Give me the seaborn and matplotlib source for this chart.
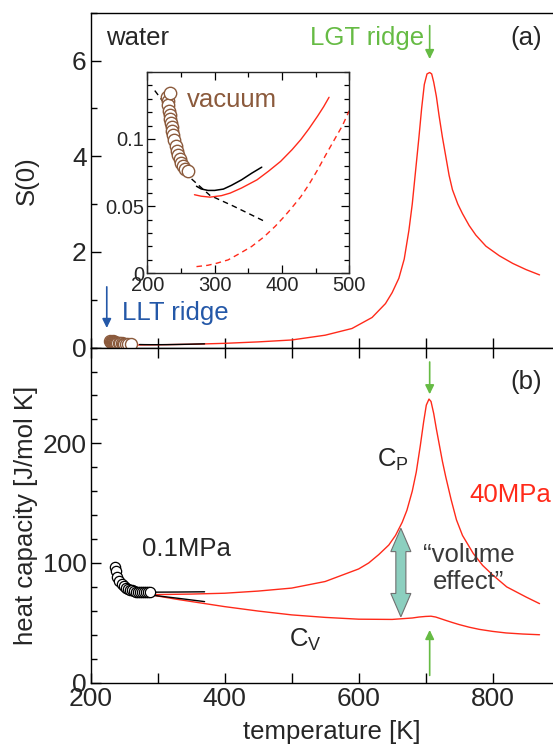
import matplotlib
matplotlib.use("Agg")
import matplotlib.pyplot as plt
import matplotlib.patches as mpatches
from matplotlib.ticker import MultipleLocator
import numpy as np
import pandas as pd
import seaborn as sns

# ---- data ----
# S(0) at 40 MPa (red, main panel a)
s0_T = [265, 300, 350, 400, 450, 500, 550, 590, 620, 640, 650, 660, 668, 675, 680,
        685, 690, 694, 698, 702, 706, 709, 712, 716, 720, 725, 730, 735, 740, 748,
        755, 765, 775, 790, 810, 830, 850, 870]
s0_val = [0.055, 0.06, 0.07, 0.09, 0.12, 0.16, 0.26, 0.4, 0.63, 0.92, 1.15, 1.45,
          1.85, 2.45, 3.0, 3.7, 4.4, 5.0, 5.5, 5.72, 5.75, 5.72, 5.55, 5.25, 4.85,
          4.4, 4.0, 3.6, 3.3, 3.0, 2.8, 2.55, 2.35, 2.12, 1.92, 1.76, 1.63, 1.52]

# experimental S(0) (vacuum, brown circles)
vac_T = [229, 230, 231, 232, 233, 233, 234, 235, 236, 237, 238, 240, 242, 244, 246,
         248, 250, 253, 256, 260]
vac_val = [0.131, 0.128, 0.125, 0.121, 0.134, 0.118, 0.115, 0.112, 0.109, 0.106,
           0.103, 0.099, 0.095, 0.091, 0.088, 0.085, 0.082, 0.080, 0.078, 0.076]

# inset curves
blk_T = [273, 280, 290, 300, 313, 325, 340, 355, 370]
blk_val = [0.0648, 0.0628, 0.0617, 0.0617, 0.0627, 0.0655, 0.0696, 0.0745, 0.0790]
blkd_T = [211, 229, 245, 256, 264, 293, 328, 373]
blkd_val = [0.136, 0.124, 0.092, 0.077, 0.071, 0.058, 0.050, 0.039]
red_T = [270, 280, 293, 310, 323, 340, 363, 380, 398, 415, 428, 440, 453, 462, 470]
red_val = [0.0585, 0.0574, 0.0567, 0.0578, 0.0597, 0.0635, 0.0696, 0.0760, 0.0833,
           0.0920, 0.0995, 0.1075, 0.117, 0.124, 0.131]
redd_T = [273, 290, 303, 320, 338, 355, 373, 390, 403, 415, 428, 440, 453, 465, 478,
          490, 500]
redd_val = [0.005, 0.006, 0.0075, 0.010, 0.015, 0.020, 0.027, 0.035, 0.042, 0.049,
            0.057, 0.066, 0.077, 0.088, 0.0995, 0.110, 0.121]

# heat capacity at 40 MPa (panel b)
cp_T = [290, 350, 400, 450, 500, 550, 600, 615, 630, 645, 655, 665, 672, 680, 686,
        692, 697, 701, 705, 708, 712, 716, 720, 725, 730, 738, 746, 755, 771, 785,
        800, 821, 850, 870]
cp_val = [73.5, 74, 74.7, 76.5, 79, 84.5, 95, 100, 107, 115, 123, 134, 144, 160, 176,
          198, 218, 232, 237, 235, 225, 212, 200, 185, 172, 153, 136, 123, 108, 98,
          90, 80, 71.5, 66]
cv_T = [290, 330, 400, 450, 500, 550, 600, 650, 680, 690, 700, 708, 715, 722, 730,
        740, 750, 765, 780, 800, 820, 845, 870]
cv_val = [73.3, 69.5, 63.5, 59.8, 56.6, 54.5, 53, 52.8, 54, 54.8, 55.3, 55.5, 54.8,
          53.5, 52, 50.2, 48.5, 46.3, 44.5, 42.8, 41.5, 40.6, 40]

# 0.1 MPa (black)
cp01_T = [283, 300, 330, 370]
cp01_val = [75.5, 75.6, 75.7, 75.9]
cv01_T = [283, 300, 330, 370]
cv01_val = [73.8, 72.5, 70.5, 67.7]
exp_T = [236, 238, 240, 243, 246, 249, 252, 255, 258, 261, 264, 267, 270, 273, 276,
         279, 282, 285, 288]
exp_cp = [97, 93, 88, 85, 82.5, 80.5, 79, 78, 77.5, 77, 76.5, 76, 75.8, 75.5, 75.5,
          75.5, 75.7, 75.8, 76]

RED = "#ff2a1a"
GREEN = "#66bb44"
BLUE = "#2458a8"
BROWN = "#8b5a3c"

sns.set_theme(style="ticks")
plt.rcParams["font.family"] = ["Liberation Sans", "DejaVu Sans"]
plt.rcParams["axes.linewidth"] = 1.0
plt.rcParams["mathtext.fontset"] = "custom"
plt.rcParams["mathtext.rm"] = "Liberation Sans"

fig = plt.figure(figsize=(5.53, 7.46), dpi=100)
ax1 = fig.add_axes([0.164, 0.534, 0.848, 0.449])
ax2 = fig.add_axes([0.164, 0.085, 0.848, 0.449])
axi = fig.add_axes([0.2665, 0.6336, 0.365, 0.2702])

FS = 18.5
TFS = 19


def style_axis(ax, top, bottom, labelbottom):
    ax.tick_params(which="both", direction="in", top=top, bottom=bottom, right=False,
                   labelbottom=labelbottom, labelsize=TFS, pad=3, color="black",
                   width=1.0)
    ax.tick_params(axis="y", which="major", length=7)
    ax.tick_params(axis="y", which="minor", length=4)
    ax.tick_params(axis="x", which="both", length=7)
    ax.xaxis.set_major_locator(MultipleLocator(200))
    ax.xaxis.set_minor_locator(MultipleLocator(100))
    for sp in ax.spines.values():
        sp.set_color("black")


# ---- panel (a) ----
sns.lineplot(x=s0_T, y=s0_val, ax=ax1, color=RED, lw=1.0, sort=False, estimator=None)
sns.lineplot(x=blk_T, y=blk_val, ax=ax1, color="black", lw=1.0, sort=False,
             estimator=None)
sns.scatterplot(x=vac_T, y=vac_val, ax=ax1, s=75, facecolor="white", edgecolor=BROWN,
                linewidth=1.0, zorder=3)
ax1.set_xlim(200, 900)
ax1.set_ylim(0, 7)
ax1.yaxis.set_major_locator(MultipleLocator(2))
ax1.yaxis.set_minor_locator(MultipleLocator(1))
style_axis(ax1, top=False, bottom=True, labelbottom=False)
ax1.set_xlabel("")
ax1.set_ylabel("S(0)", fontsize=FS, va="center")
ax1.yaxis.set_label_coords(-0.137, 0.5)

ax1.text(223, 6.48, "water", fontsize=FS, ha="left", va="center")
ax1.text(697, 6.48, "LGT ridge", fontsize=FS, ha="right", va="center", color=GREEN)
ax1.text(850, 6.48, "(a)", fontsize=FS, ha="center", va="center")
ax1.text(247, 0.73, "LLT ridge", fontsize=FS, ha="left", va="center", color=BLUE)
ax1.annotate("", xy=(706, 6.03), xytext=(706, 6.73),
             arrowprops=dict(arrowstyle="-|>,head_length=0.45,head_width=0.22",
                             color=GREEN, lw=1.2, shrinkA=0, shrinkB=0,
                             mutation_scale=12))
ax1.annotate("", xy=(224, 0.41), xytext=(224, 1.27),
             arrowprops=dict(arrowstyle="-|>,head_length=0.45,head_width=0.22",
                             color=BLUE, lw=1.2, shrinkA=0, shrinkB=0,
                             mutation_scale=12))

# ---- inset ----
sns.lineplot(x=blkd_T, y=blkd_val, ax=axi, color="black", lw=1.0, sort=False,
             estimator=None, linestyle=(0, (4, 3)))
sns.lineplot(x=redd_T, y=redd_val, ax=axi, color=RED, lw=1.0, sort=False,
             estimator=None, linestyle=(0, (4, 3)))
sns.lineplot(x=blk_T, y=blk_val, ax=axi, color="black", lw=1.1, sort=False,
             estimator=None)
sns.lineplot(x=red_T, y=red_val, ax=axi, color=RED, lw=1.0, sort=False, estimator=None)
sns.scatterplot(x=vac_T, y=vac_val, ax=axi, s=80, facecolor="white", edgecolor=BROWN,
                linewidth=1.0, zorder=3)
axi.set_xlim(200, 500)
axi.set_ylim(0, 0.15)
axi.xaxis.set_major_locator(MultipleLocator(100))
axi.xaxis.set_minor_locator(MultipleLocator(50))
axi.yaxis.set_major_locator(MultipleLocator(0.05))
axi.yaxis.set_minor_locator(MultipleLocator(0.01))
axi.set_yticks([0, 0.05, 0.1])
axi.set_yticklabels(["0", "0.05", "0.1"])
axi.tick_params(which="both", direction="in", top=True, right=True, labelsize=14.5,
                pad=2, color="black", width=0.9)
axi.tick_params(which="major", length=6)
axi.tick_params(which="minor", length=3.5)
axi.set_xlabel("")
axi.set_ylabel("")
axi.text(259, 0.129, "vacuum", fontsize=FS, ha="left", va="center", color=BROWN)

# ---- panel (b) ----
sns.lineplot(x=cp_T, y=cp_val, ax=ax2, color=RED, lw=1.0, sort=False, estimator=None)
sns.lineplot(x=cv_T, y=cv_val, ax=ax2, color=RED, lw=1.0, sort=False, estimator=None)
sns.lineplot(x=cp01_T, y=cp01_val, ax=ax2, color="black", lw=1.0, sort=False,
             estimator=None)
sns.lineplot(x=cv01_T, y=cv01_val, ax=ax2, color="black", lw=1.0, sort=False,
             estimator=None)
sns.scatterplot(x=exp_T, y=exp_cp, ax=ax2, s=55, facecolor="white", edgecolor="black",
                linewidth=0.9, zorder=3)
ax2.set_xlim(200, 900)
ax2.set_ylim(0, 280)
ax2.yaxis.set_major_locator(MultipleLocator(100))
ax2.yaxis.set_minor_locator(MultipleLocator(20))
style_axis(ax2, top=True, bottom=True, labelbottom=True)
ax2.set_ylabel("heat capacity [J/mol K]", fontsize=FS, va="center")
ax2.yaxis.set_label_coords(-0.137, 0.5)
ax2.set_xlabel("temperature [K]", fontsize=FS, va="center")
ax2.xaxis.set_label_coords(0.514, -0.148)

ax2.text(850, 251.5, "(b)", fontsize=FS, ha="center", va="center")
ax2.text(276, 112, "0.1MPa", fontsize=FS, ha="left", va="center")
ax2.text(766, 157, "40MPa", fontsize=FS, ha="left", va="center", color=RED)
ax2.text(627, 186, r"C$_\mathregular{P}$", fontsize=FS, ha="left", va="center")
ax2.text(496, 36, r"C$_\mathregular{V}$", fontsize=FS, ha="left", va="center")
ax2.text(764, 106.7, "\u201cvolume", fontsize=FS, ha="center", va="center",
         color="#3a3a3a")
ax2.text(764, 84.4, "effect\u201d", fontsize=FS, ha="center", va="center",
         color="#3a3a3a")

green_arrow = dict(arrowstyle="-|>,head_length=0.45,head_width=0.22", color=GREEN,
                   lw=1.2, shrinkA=0, shrinkB=0, mutation_scale=12)
ax2.annotate("", xy=(706, 241), xytext=(706, 268), arrowprops=green_arrow,
             annotation_clip=False)
ax2.annotate("", xy=(706, 44), xytext=(706, 6), arrowprops=green_arrow)

# double-headed "volume effect" arrow
ax_x, y_lo, y_hi = 663, 55, 129
sw, hw, hl = 7.5, 15, 19.5
arrow_pts = [(ax_x - sw, y_lo + hl), (ax_x - hw, y_lo + hl), (ax_x, y_lo),
             (ax_x + hw, y_lo + hl), (ax_x + sw, y_lo + hl), (ax_x + sw, y_hi - hl),
             (ax_x + hw, y_hi - hl), (ax_x, y_hi), (ax_x - hw, y_hi - hl),
             (ax_x - sw, y_hi - hl)]
ax2.add_patch(mpatches.Polygon(arrow_pts, closed=True, facecolor="#8ccfbf",
                               edgecolor="#707070", lw=0.8, zorder=4))

fig.savefig("out.png", dpi=100)
plt.close(fig)
